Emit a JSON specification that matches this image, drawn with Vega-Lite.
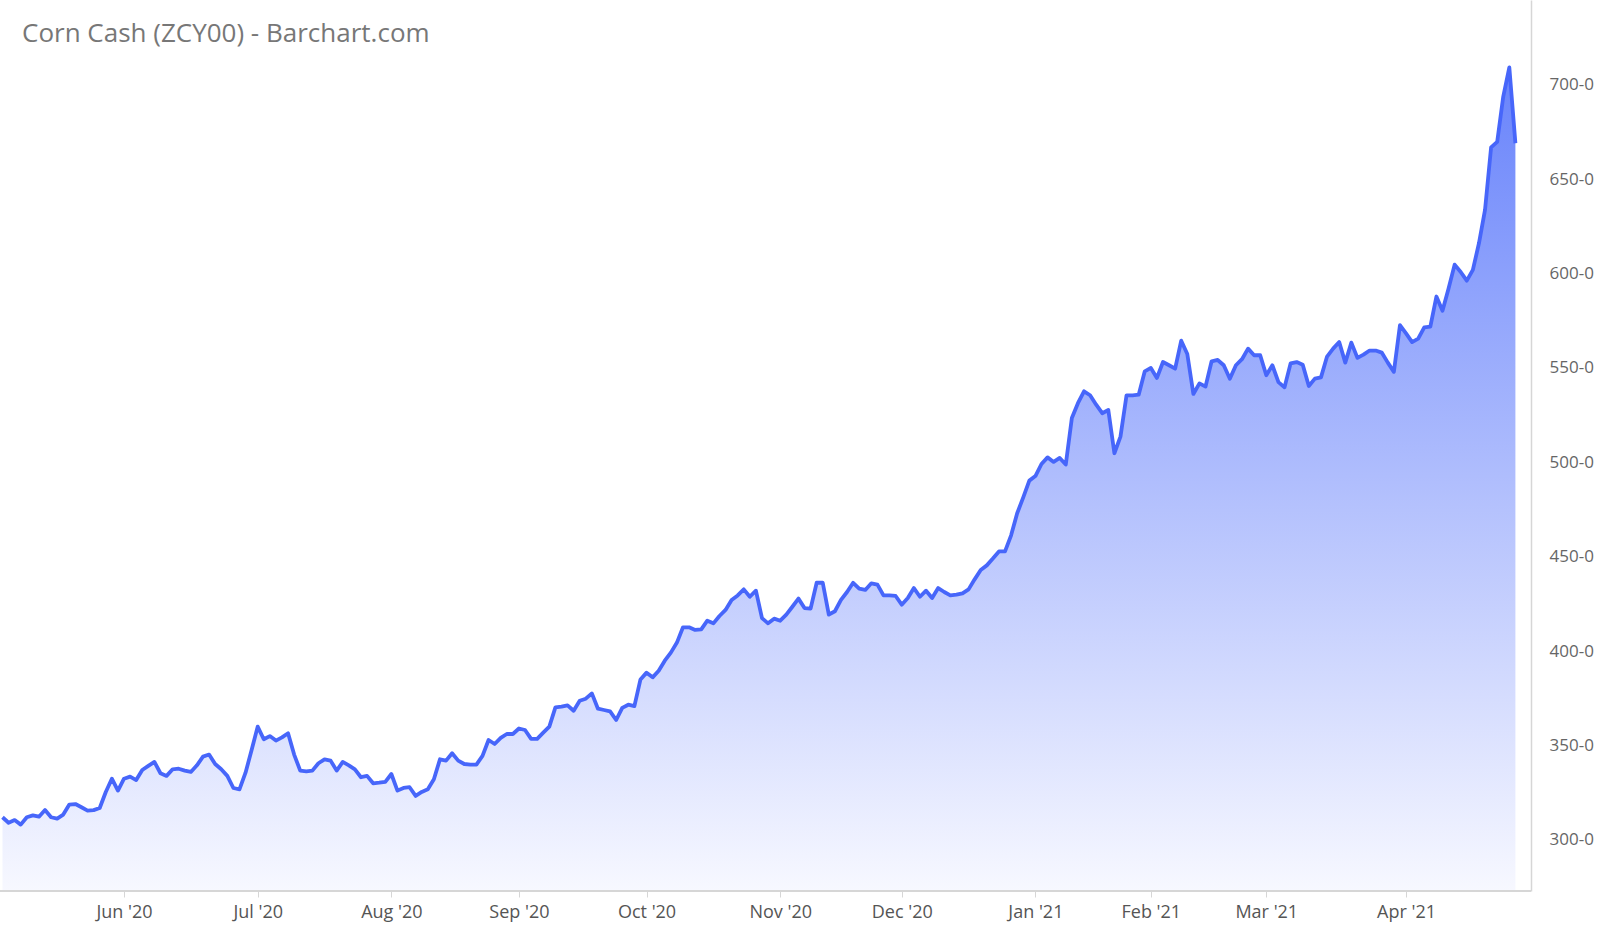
{
  "$schema": "https://vega.github.io/schema/vega-lite/v6.json",
  "width": 1531,
  "height": 891,
  "autosize": {"type": "none"},
  "padding": {"left": 0, "top": 0, "right": 69, "bottom": 39},
  "background": "white",
  "config": {"view": {"stroke": null}, "font": "Open Sans"},
  "title": {
    "text": "Corn Cash (ZCY00) - Barchart.com",
    "anchor": "start",
    "frame": "group",
    "orient": "top",
    "offset": -42,
    "baseline": "alphabetic",
    "dx": 22,
    "dy": 26,
    "fontSize": 26,
    "fontWeight": "normal",
    "color": "#777777",
    "font": "Open Sans"
  },
  "data": {
    "values": [
      {"date": "2020-05-01", "close": 312.0},
      {"date": "2020-05-04", "close": 309.1},
      {"date": "2020-05-05", "close": 310.5},
      {"date": "2020-05-06", "close": 308.1},
      {"date": "2020-05-07", "close": 312.0},
      {"date": "2020-05-08", "close": 313.0},
      {"date": "2020-05-11", "close": 312.3},
      {"date": "2020-05-12", "close": 315.8},
      {"date": "2020-05-13", "close": 312.0},
      {"date": "2020-05-14", "close": 311.3},
      {"date": "2020-05-15", "close": 313.4},
      {"date": "2020-05-18", "close": 318.7},
      {"date": "2020-05-19", "close": 319.0},
      {"date": "2020-05-20", "close": 317.3},
      {"date": "2020-05-21", "close": 315.5},
      {"date": "2020-05-22", "close": 315.8},
      {"date": "2020-05-26", "close": 316.9},
      {"date": "2020-05-27", "close": 325.4},
      {"date": "2020-05-28", "close": 332.4},
      {"date": "2020-05-29", "close": 326.1},
      {"date": "2020-06-01", "close": 332.4},
      {"date": "2020-06-02", "close": 333.5},
      {"date": "2020-06-03", "close": 331.7},
      {"date": "2020-06-04", "close": 337.0},
      {"date": "2020-06-05", "close": 339.2},
      {"date": "2020-06-08", "close": 341.3},
      {"date": "2020-06-09", "close": 335.3},
      {"date": "2020-06-10", "close": 333.9},
      {"date": "2020-06-11", "close": 337.4},
      {"date": "2020-06-12", "close": 337.7},
      {"date": "2020-06-15", "close": 336.7},
      {"date": "2020-06-16", "close": 336.0},
      {"date": "2020-06-17", "close": 339.5},
      {"date": "2020-06-18", "close": 344.1},
      {"date": "2020-06-19", "close": 345.2},
      {"date": "2020-06-22", "close": 340.2},
      {"date": "2020-06-23", "close": 337.4},
      {"date": "2020-06-24", "close": 333.9},
      {"date": "2020-06-25", "close": 327.5},
      {"date": "2020-06-26", "close": 326.8},
      {"date": "2020-06-29", "close": 335.6},
      {"date": "2020-06-30", "close": 347.6},
      {"date": "2020-07-01", "close": 360.0},
      {"date": "2020-07-02", "close": 353.3},
      {"date": "2020-07-06", "close": 355.0},
      {"date": "2020-07-07", "close": 352.6},
      {"date": "2020-07-08", "close": 354.3},
      {"date": "2020-07-09", "close": 356.5},
      {"date": "2020-07-10", "close": 345.2},
      {"date": "2020-07-13", "close": 336.7},
      {"date": "2020-07-14", "close": 336.3},
      {"date": "2020-07-15", "close": 336.7},
      {"date": "2020-07-16", "close": 340.6},
      {"date": "2020-07-17", "close": 342.7},
      {"date": "2020-07-20", "close": 342.0},
      {"date": "2020-07-21", "close": 336.7},
      {"date": "2020-07-22", "close": 341.3},
      {"date": "2020-07-23", "close": 339.5},
      {"date": "2020-07-24", "close": 337.4},
      {"date": "2020-07-27", "close": 333.2},
      {"date": "2020-07-28", "close": 333.9},
      {"date": "2020-07-29", "close": 330.0},
      {"date": "2020-07-30", "close": 330.3},
      {"date": "2020-07-31", "close": 330.7},
      {"date": "2020-08-03", "close": 334.9},
      {"date": "2020-08-04", "close": 326.1},
      {"date": "2020-08-05", "close": 327.5},
      {"date": "2020-08-06", "close": 327.9},
      {"date": "2020-08-07", "close": 323.3},
      {"date": "2020-08-10", "close": 325.4},
      {"date": "2020-08-11", "close": 326.8},
      {"date": "2020-08-12", "close": 332.1},
      {"date": "2020-08-13", "close": 342.7},
      {"date": "2020-08-14", "close": 342.0},
      {"date": "2020-08-17", "close": 345.9},
      {"date": "2020-08-18", "close": 342.0},
      {"date": "2020-08-19", "close": 340.2},
      {"date": "2020-08-20", "close": 339.9},
      {"date": "2020-08-21", "close": 339.9},
      {"date": "2020-08-24", "close": 344.5},
      {"date": "2020-08-25", "close": 352.9},
      {"date": "2020-08-26", "close": 350.8},
      {"date": "2020-08-27", "close": 354.0},
      {"date": "2020-08-28", "close": 356.1},
      {"date": "2020-08-31", "close": 356.1},
      {"date": "2020-09-01", "close": 359.0},
      {"date": "2020-09-02", "close": 358.2},
      {"date": "2020-09-03", "close": 353.5},
      {"date": "2020-09-04", "close": 353.5},
      {"date": "2020-09-08", "close": 356.8},
      {"date": "2020-09-09", "close": 360.0},
      {"date": "2020-09-10", "close": 370.2},
      {"date": "2020-09-11", "close": 370.6},
      {"date": "2020-09-14", "close": 371.3},
      {"date": "2020-09-15", "close": 368.4},
      {"date": "2020-09-16", "close": 373.7},
      {"date": "2020-09-17", "close": 374.8},
      {"date": "2020-09-18", "close": 377.6},
      {"date": "2020-09-21", "close": 369.5},
      {"date": "2020-09-22", "close": 368.8},
      {"date": "2020-09-23", "close": 368.1},
      {"date": "2020-09-24", "close": 363.5},
      {"date": "2020-09-25", "close": 369.9},
      {"date": "2020-09-28", "close": 371.6},
      {"date": "2020-09-29", "close": 370.9},
      {"date": "2020-09-30", "close": 385.0},
      {"date": "2020-10-01", "close": 388.6},
      {"date": "2020-10-02", "close": 386.1},
      {"date": "2020-10-05", "close": 389.6},
      {"date": "2020-10-06", "close": 394.9},
      {"date": "2020-10-07", "close": 399.2},
      {"date": "2020-10-08", "close": 404.5},
      {"date": "2020-10-09", "close": 412.6},
      {"date": "2020-10-12", "close": 412.6},
      {"date": "2020-10-13", "close": 411.2},
      {"date": "2020-10-14", "close": 411.5},
      {"date": "2020-10-15", "close": 416.1},
      {"date": "2020-10-16", "close": 414.7},
      {"date": "2020-10-19", "close": 418.6},
      {"date": "2020-10-20", "close": 421.8},
      {"date": "2020-10-21", "close": 427.1},
      {"date": "2020-10-22", "close": 429.5},
      {"date": "2020-10-23", "close": 432.7},
      {"date": "2020-10-26", "close": 428.8},
      {"date": "2020-10-27", "close": 432.0},
      {"date": "2020-10-28", "close": 417.5},
      {"date": "2020-10-29", "close": 414.7},
      {"date": "2020-10-30", "close": 417.2},
      {"date": "2020-11-02", "close": 416.1},
      {"date": "2020-11-03", "close": 419.3},
      {"date": "2020-11-04", "close": 423.5},
      {"date": "2020-11-05", "close": 427.8},
      {"date": "2020-11-06", "close": 422.8},
      {"date": "2020-11-09", "close": 422.5},
      {"date": "2020-11-10", "close": 436.2},
      {"date": "2020-11-11", "close": 436.2},
      {"date": "2020-11-12", "close": 419.3},
      {"date": "2020-11-13", "close": 421.1},
      {"date": "2020-11-16", "close": 427.1},
      {"date": "2020-11-17", "close": 431.3},
      {"date": "2020-11-18", "close": 436.2},
      {"date": "2020-11-19", "close": 433.1},
      {"date": "2020-11-20", "close": 432.4},
      {"date": "2020-11-23", "close": 435.9},
      {"date": "2020-11-24", "close": 435.2},
      {"date": "2020-11-25", "close": 429.5},
      {"date": "2020-11-27", "close": 429.5},
      {"date": "2020-11-30", "close": 429.2},
      {"date": "2020-12-01", "close": 424.6},
      {"date": "2020-12-02", "close": 428.1},
      {"date": "2020-12-03", "close": 433.4},
      {"date": "2020-12-04", "close": 428.8},
      {"date": "2020-12-07", "close": 432.0},
      {"date": "2020-12-08", "close": 428.1},
      {"date": "2020-12-09", "close": 433.4},
      {"date": "2020-12-10", "close": 431.3},
      {"date": "2020-12-11", "close": 429.5},
      {"date": "2020-12-14", "close": 429.9},
      {"date": "2020-12-15", "close": 430.6},
      {"date": "2020-12-16", "close": 432.7},
      {"date": "2020-12-17", "close": 438.0},
      {"date": "2020-12-18", "close": 443.0},
      {"date": "2020-12-21", "close": 445.4},
      {"date": "2020-12-22", "close": 449.0},
      {"date": "2020-12-23", "close": 452.8},
      {"date": "2020-12-24", "close": 452.8},
      {"date": "2020-12-28", "close": 461.3},
      {"date": "2020-12-29", "close": 473.0},
      {"date": "2020-12-30", "close": 481.4},
      {"date": "2020-12-31", "close": 490.3},
      {"date": "2021-01-04", "close": 492.7},
      {"date": "2021-01-05", "close": 499.1},
      {"date": "2021-01-06", "close": 502.6},
      {"date": "2021-01-07", "close": 500.2},
      {"date": "2021-01-08", "close": 502.3},
      {"date": "2021-01-11", "close": 498.8},
      {"date": "2021-01-12", "close": 523.5},
      {"date": "2021-01-13", "close": 531.3},
      {"date": "2021-01-14", "close": 537.6},
      {"date": "2021-01-15", "close": 535.5},
      {"date": "2021-01-19", "close": 530.5},
      {"date": "2021-01-20", "close": 526.0},
      {"date": "2021-01-21", "close": 527.7},
      {"date": "2021-01-22", "close": 504.8},
      {"date": "2021-01-25", "close": 513.6},
      {"date": "2021-01-26", "close": 535.5},
      {"date": "2021-01-27", "close": 535.5},
      {"date": "2021-01-28", "close": 535.8},
      {"date": "2021-01-29", "close": 548.2},
      {"date": "2021-02-01", "close": 550.0},
      {"date": "2021-02-02", "close": 544.7},
      {"date": "2021-02-03", "close": 553.1},
      {"date": "2021-02-04", "close": 551.4},
      {"date": "2021-02-05", "close": 549.6},
      {"date": "2021-02-08", "close": 564.4},
      {"date": "2021-02-09", "close": 557.4},
      {"date": "2021-02-10", "close": 536.2},
      {"date": "2021-02-11", "close": 541.8},
      {"date": "2021-02-12", "close": 540.1},
      {"date": "2021-02-16", "close": 553.5},
      {"date": "2021-02-17", "close": 554.2},
      {"date": "2021-02-18", "close": 551.4},
      {"date": "2021-02-19", "close": 544.3},
      {"date": "2021-02-22", "close": 551.4},
      {"date": "2021-02-23", "close": 554.6},
      {"date": "2021-02-24", "close": 560.2},
      {"date": "2021-02-25", "close": 556.7},
      {"date": "2021-02-26", "close": 556.7},
      {"date": "2021-03-01", "close": 546.1},
      {"date": "2021-03-02", "close": 551.4},
      {"date": "2021-03-03", "close": 542.5},
      {"date": "2021-03-04", "close": 539.7},
      {"date": "2021-03-05", "close": 552.4},
      {"date": "2021-03-08", "close": 553.1},
      {"date": "2021-03-09", "close": 551.7},
      {"date": "2021-03-10", "close": 540.4},
      {"date": "2021-03-11", "close": 544.3},
      {"date": "2021-03-12", "close": 545.0},
      {"date": "2021-03-15", "close": 556.0},
      {"date": "2021-03-16", "close": 560.2},
      {"date": "2021-03-17", "close": 563.7},
      {"date": "2021-03-18", "close": 552.8},
      {"date": "2021-03-19", "close": 563.4},
      {"date": "2021-03-22", "close": 555.3},
      {"date": "2021-03-23", "close": 557.0},
      {"date": "2021-03-24", "close": 559.2},
      {"date": "2021-03-25", "close": 559.2},
      {"date": "2021-03-26", "close": 558.1},
      {"date": "2021-03-29", "close": 552.8},
      {"date": "2021-03-30", "close": 547.9},
      {"date": "2021-03-31", "close": 572.6},
      {"date": "2021-04-01", "close": 568.3},
      {"date": "2021-04-05", "close": 563.7},
      {"date": "2021-04-06", "close": 565.5},
      {"date": "2021-04-07", "close": 571.5},
      {"date": "2021-04-08", "close": 571.9},
      {"date": "2021-04-09", "close": 587.8},
      {"date": "2021-04-12", "close": 580.3},
      {"date": "2021-04-13", "close": 592.0},
      {"date": "2021-04-14", "close": 604.7},
      {"date": "2021-04-15", "close": 600.8},
      {"date": "2021-04-16", "close": 596.2},
      {"date": "2021-04-19", "close": 601.9},
      {"date": "2021-04-20", "close": 616.0},
      {"date": "2021-04-21", "close": 633.7},
      {"date": "2021-04-22", "close": 666.8},
      {"date": "2021-04-23", "close": 669.7},
      {"date": "2021-04-26", "close": 693.7},
      {"date": "2021-04-27", "close": 709.2},
      {"date": "2021-04-28", "close": 669.0}
    ]
  },
  "encoding": {
    "x": {
      "field": "date",
      "type": "ordinal",
      "scale": {"type": "point", "range": [2.5, 1515.4], "padding": 0},
      "axis": {
        "title": null,
        "domain": false,
        "values": ["2020-06-01", "2020-07-01", "2020-08-03", "2020-09-01", "2020-10-01", "2020-11-02", "2020-12-01", "2021-01-04", "2021-02-01", "2021-03-01", "2021-04-01"],
        "labelExpr": "utcFormat(toDate(datum.value), \"%b '%y\")",
        "labelAngle": 0,
        "labelFontSize": 18,
        "labelColor": "#555555",
        "labelPadding": 6,
        "labelFont": "Open Sans",
        "tickColor": "#d6d6d6",
        "tickSize": 6,
        "grid": false
      }
    },
    "y": {
      "field": "close",
      "type": "quantitative",
      "scale": {"domain": [272.94, 744.86], "zero": false, "nice": false},
      "axis": {
        "title": null,
        "orient": "right",
        "values": [300, 350, 400, 450, 500, 550, 600, 650, 700],
        "labelExpr": "datum.value + '-0'",
        "tickSize": 0,
        "labelPadding": 18,
        "labelFontSize": 17,
        "labelColor": "#666666",
        "labelFont": "Open Sans",
        "domainColor": "#d6d6d6",
        "domainWidth": 1.5,
        "grid": false
      }
    }
  },
  "layer": [
    {
      "mark": {
        "type": "area",
        "line": false,
        "fill": {
          "gradient": "linear",
          "x1": 0, "y1": 0, "x2": 0, "y2": 1,
          "stops": [
            {"offset": 0, "color": "#6883fb"},
            {"offset": 1, "color": "#f7f8ff"}
          ]
        }
      },
      "encoding": {"y2": {"datum": 272.94}}
    },
    {
      "mark": {"type": "line", "color": "#4766fa", "strokeWidth": 3.8, "strokeJoin": "round"}
    },
    {
      "mark": {"type": "rule", "color": "#d6d6d6", "strokeWidth": 2},
      "encoding": {"x": null, "y": {"datum": 272.94}}
    }
  ]
}
